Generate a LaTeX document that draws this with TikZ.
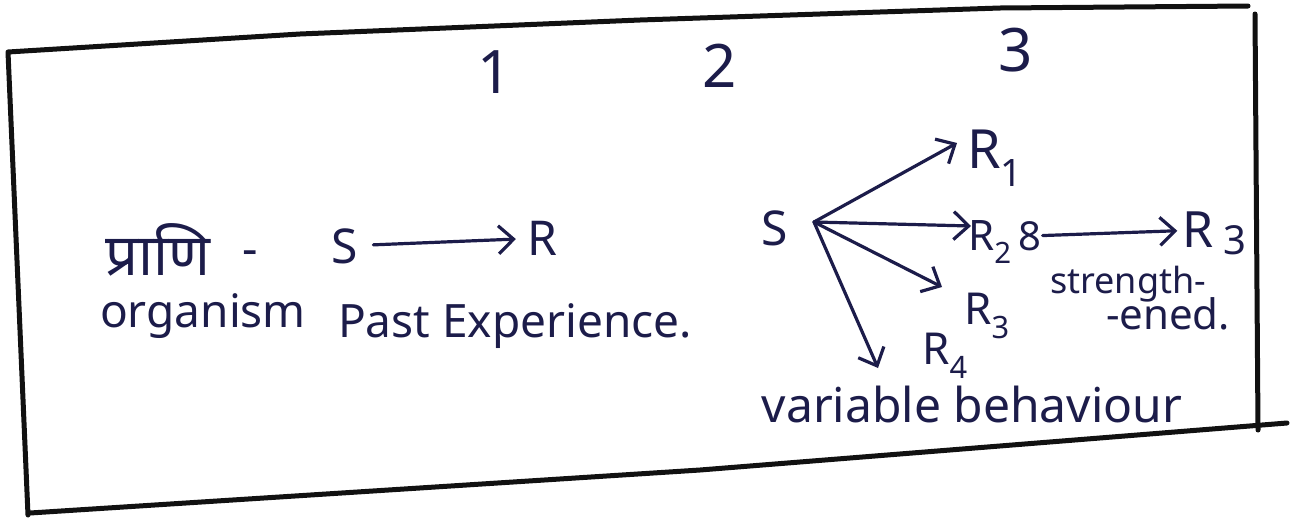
\documentclass[tikz,border=0pt]{standalone}
\usepackage{fontspec}
\setmainfont{Noto Sans}
\newfontfamily\devfont[Script=Devanagari]{Noto Sans}
\usepackage{xcolor}
\usetikzlibrary{arrows.meta, positioning}
\definecolor{inkblue}{HTML}{1C1C4A}
\definecolor{inkdark}{HTML}{111111}

\begin{document}
\begin{tikzpicture}[
  x=1pt, y=-1pt,
  hand/.style={inner sep=1pt, text=inkblue, font=\fontsize{#1}{#1}\selectfont},
  hand/.default=48,
  ink/.style={draw=inkblue, line width=3.2pt, line cap=round,
    -{Straight Barb[length=15pt, width=28pt, line width=3.2pt]}},
]
  \useasboundingbox (0,0) rectangle (1295,517);

  % frame
  \draw[inkdark, line width=5pt, line cap=round, line join=round]
    (1258,430) -- (1255,14);
  \draw[inkdark, line width=5pt, line cap=round, line join=round]
    (28,515) -- (8,52) -- (300,34) -- (640,20) -- (1000,8) -- (1248,6);
  \draw[inkdark, line width=5pt, line cap=round]
    (30,513) -- (700,470) -- (1287,423);

  % column numbers
  \node[hand=60] (c1) at (495,72) {1};
  \node[hand=60] (c2) at (720,66) {2};
  \node[hand=60] (c3) at (1016,50) {3};

  % 1: S -> R
  \node[hand=58] (prani) at (158,250) {\devfont प्राणि};
  \node[hand] (dash) at (250,258) {-};
  \node[hand] (s1) at (345,246) {S};
  \node[hand] (r1) at (542,238) {R};
  \node[hand=46] (organism) at (203,316) {organism};
  \node[hand=46] (past) at (515,326) {Past Experience.};
  \draw[ink, shorten <=14pt, shorten >=10pt] (s1) -- (r1);

  % 3: S -> R1..R4
  \node[hand] (s2) at (775,228) {S};
  \coordinate (hub) at (814,222);
  \node[hand=54] (ra) at (995,158) {R\textsubscript{1}};
  \node[hand=42] (rb) at (990,242) {R\textsubscript{2}};
  \node[hand=44] (rc) at (987,316) {R\textsubscript{3}};
  \node[hand=44] (rd) at (945,356) {R\textsubscript{4}};
  \draw[ink] (hub) -- ([shift={(-38,-15)}]ra.center);
  \draw[ink] (hub) -- ([shift={(-19,-16)}]rb.center);
  \draw[ink] (hub) -- ([shift={(-45,-29)}]rc.center);
  \draw[ink] (hub) -- ([shift={(-67,12)}]rd.center);

  % strengthened response
  \node[hand=40] (s3) at (1030,236) {8};
  \node[hand=50] (re) at (1198,230) {R};
  \node[hand=40, right=8pt of re, yshift=-10pt] (re3) {3};
  \draw[ink, shorten >=4pt] (s3) -- (re);
  \node[hand=36] (strength) at (1128,284) {strength-};
  \node[hand=42] (ened) at (1168,314) {-ened.};

  \node[hand=48] (variable) at (972,404) {variable behaviour};
\end{tikzpicture}
\end{document}
